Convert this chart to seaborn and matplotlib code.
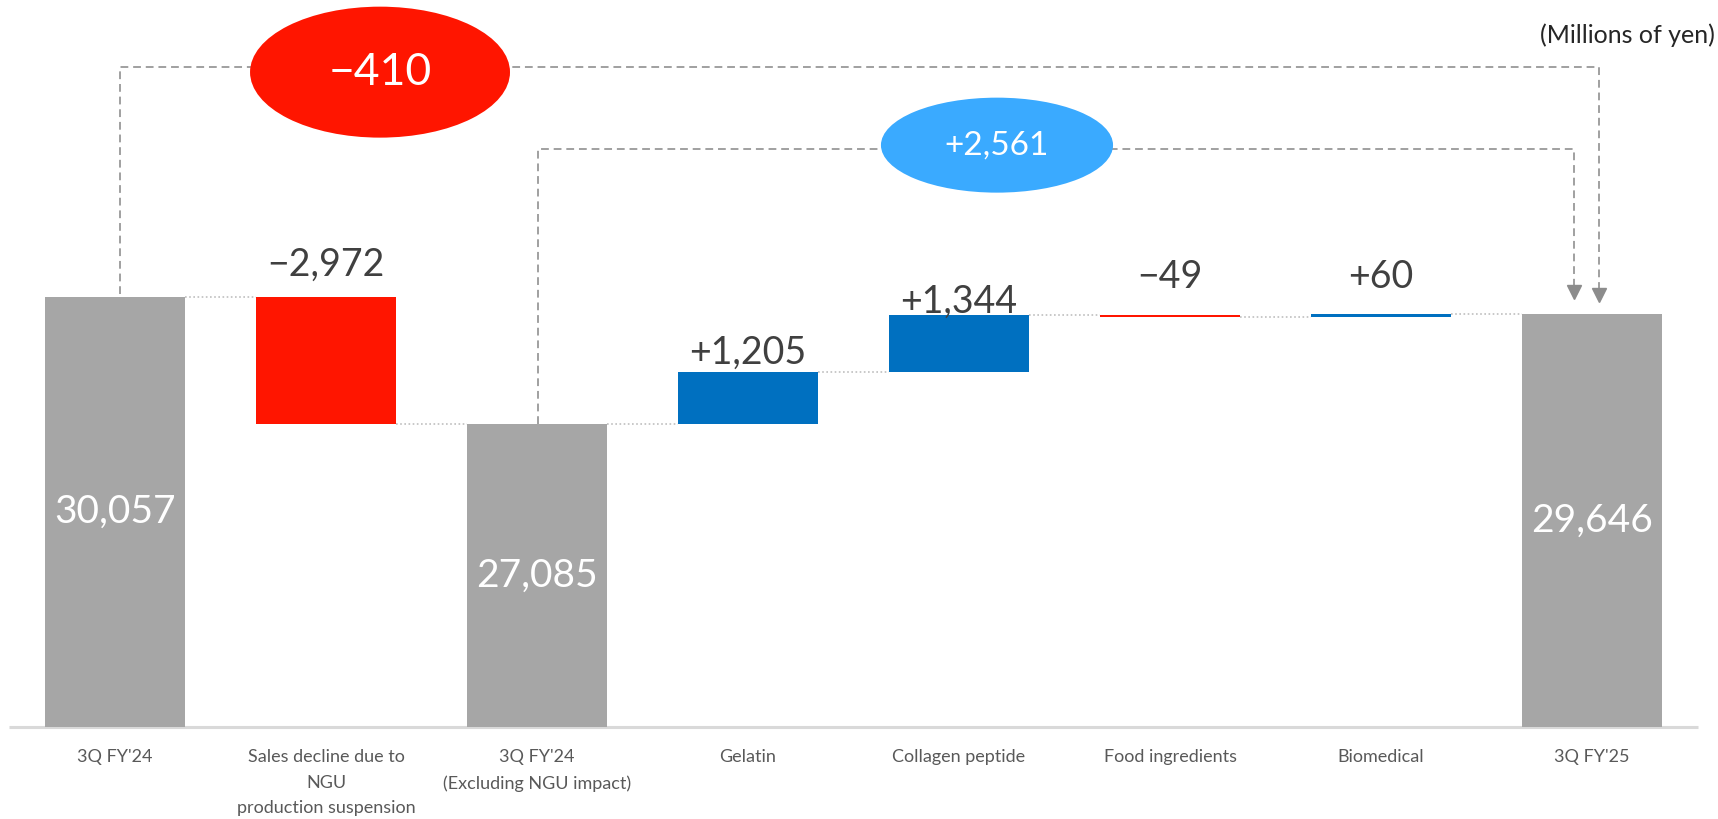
import matplotlib
matplotlib.use("Agg")
import matplotlib.pyplot as plt
from matplotlib.patches import Ellipse
import numpy as np
import pandas as pd
import seaborn as sns

# ---- data (millions of yen) ----
categories = [
    "3Q FY'24",
    "Sales decline due to\nNGU\nproduction suspension",
    "3Q FY'24\n(Excluding NGU impact)",
    "Gelatin",
    "Collagen peptide",
    "Food ingredients",
    "Biomedical",
    "3Q FY'25",
]
start_total = 30057
ngu_decline = -2972
adjusted_total = 27085
segment_changes = [1205, 1344, -49, 60]
end_total = 29646
overall_change = -410
segment_change_total = 2561

# ---- style ----
GRAY = "#A6A6A6"
RED = "#FF1500"
BLUE = "#0070C0"
LIGHT_BLUE = "#3AAAFF"
LABEL_DARK = "#404040"
TICK_GRAY = "#595959"
BRACKET_GRAY = "#A0A0A0"
CONNECT_GRAY = "#BFBFBF"
Y_FLOOR, Y_CEIL = 20000, 36990
BAR_W = 0.66

sns.set_theme(style="white")
plt.rcParams["font.family"] = ["Lato", "DejaVu Sans"]


def fmt_change(v):
    return ("+" if v > 0 else "\u2212") + f"{abs(v):,}"


# ---- waterfall geometry ----
steps = ([("total", start_total), ("delta", ngu_decline), ("total", adjusted_total)]
         + [("delta", c) for c in segment_changes] + [("total", end_total)])
bottoms, heights, colors, levels = [], [], [], []
level = 0
for kind, v in steps:
    if kind == "total":
        bottoms.append(0)
        heights.append(v)
        colors.append(GRAY)
        level = v
    else:
        new = level + v
        bottoms.append(min(level, new))
        heights.append(abs(v))
        colors.append(RED if v < 0 else BLUE)
        level = new
    levels.append(level)

df = pd.DataFrame({"step": categories, "height": heights})

fig = plt.figure(figsize=(17.18, 8.19), dpi=100)
ax = fig.add_axes([0, 92 / 819, 1, 727 / 819])

sns.barplot(data=df, x="step", y="height", bottom=np.array(bottoms),
            color=GRAY, width=BAR_W, errorbar=None, saturation=1, ax=ax,
            linewidth=0, zorder=3)
for patch, c in zip(ax.patches, colors):
    patch.set_facecolor(c)
    patch.set_edgecolor(c)

ax.set_xlim(-0.545, 7.597)
ax.set_ylim(Y_FLOOR, Y_CEIL)
ax.set_yticks([])
ax.set_xlabel("")
ax.set_ylabel("")
sns.despine(ax=ax, left=True, bottom=True)
ax.grid(False)

# baseline
ax.plot([-0.5, 7.5], [Y_FLOOR, Y_FLOOR], color="#D9D9D9", lw=2.2,
        zorder=2, clip_on=False, solid_capstyle="butt")

ax.tick_params(axis="x", length=0, pad=16, labelsize=13, labelcolor=TICK_GRAY)
for t in ax.get_xticklabels():
    t.set_linespacing(1.72)

# dotted connectors between adjacent bars
for i in range(len(steps) - 1):
    ax.plot([i + BAR_W / 2, i + 1 - BAR_W / 2], [levels[i], levels[i]],
            ls=(0, (1, 1.5)), color=CONNECT_GRAY, lw=1.2, zorder=2)

# labels: totals inside, changes above
label_offsets = [15, 6.5, 1.5, 19, 19]
k = 0
for i, (kind, v) in enumerate(steps):
    if kind == "total":
        ax.text(i, (Y_FLOOR + v) / 2, f"{v:,}", ha="center", va="center",
                color="white", fontsize=28, zorder=5)
    else:
        top = bottoms[i] + heights[i]
        ax.annotate(fmt_change(v), (i, top), xytext=(0, label_offsets[k]),
                    textcoords="offset points", ha="center", va="baseline",
                    color=LABEL_DARK, fontsize=27, zorder=5)
        k += 1

# brackets showing overall changes
dash = (0, (4, 2.5))
ax.plot([0.024, 0.024, 7.033, 7.033], [30130, 35421, 35421, 30093],
        ls=dash, color=BRACKET_GRAY, lw=1.4, zorder=1)
ax.plot([2.005, 2.005, 6.915, 6.915], [adjusted_total, 33505, 33505, 30164],
        ls=dash, color=BRACKET_GRAY, lw=1.4, zorder=1)
ax.plot([7.033, 6.915], [30093, 30164], ls="none", marker="v",
        markersize=10, color="#8C8C8C", zorder=4)

ax.add_patch(Ellipse((1.256, 35304), 1.232, 3061, facecolor=RED,
                     edgecolor="none", zorder=4))
ax.text(1.256, 35304, fmt_change(overall_change), ha="center", va="center",
        color="white", fontsize=32, zorder=5)
ax.add_patch(Ellipse((4.18, 33598), 1.10, 2220, facecolor=LIGHT_BLUE,
                     edgecolor="none", zorder=4))
ax.text(4.18, 33598, fmt_change(segment_change_total), ha="center",
        va="center", color="white", fontsize=24, zorder=5)

fig.text(1715 / 1718, 1 - 35 / 819, "(Millions of yen)", ha="right",
         va="center", fontsize=18, color="#262626")

fig.savefig("out.png", dpi=100, facecolor="white")
